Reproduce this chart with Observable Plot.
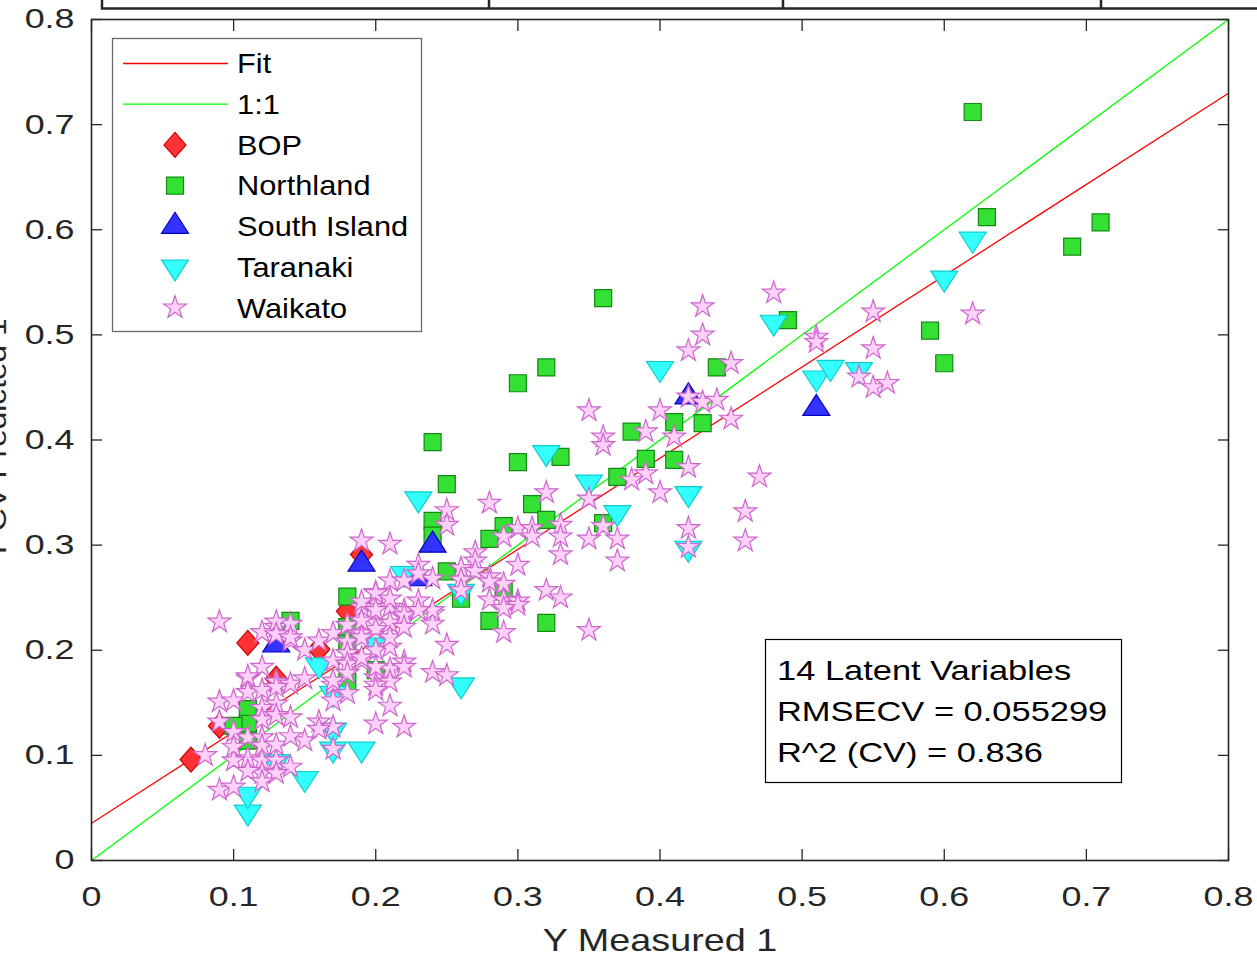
<!DOCTYPE html>
<html><head><meta charset="utf-8">
<script src="https://cdn.jsdelivr.net/npm/d3@7"></script>
<script src="https://cdn.jsdelivr.net/npm/@observablehq/plot@0.6"></script>
<style>
html,body{margin:0;padding:0;background:#fff;}
#chart{position:relative;width:1257px;height:957px;overflow:hidden;}
</style></head><body><div id="chart"></div>
<script>
// ---------------- data ----------------
const seriesNames = ["BOP", "Northland", "South Island", "Taranaki", "Waikato"];
const lineNames = ["Fit", "1:1"];
const xTicks = [0, 0.1, 0.2, 0.3, 0.4, 0.5, 0.6, 0.7, 0.8];
const yTicks = [0, 0.1, 0.2, 0.3, 0.4, 0.5, 0.6, 0.7, 0.8];
const xLabel = "Y Measured 1";
const yLabel = "Y CV Predicted 1";
const statsLines = ["14 Latent Variables", "RMSECV = 0.055299", "R^2 (CV) = 0.836"];
const fitIntercept = 0.0355;
const fitSlope = 0.868;

const bop = [[0.07,0.096],[0.09,0.128],[0.11,0.207],[0.13,0.173],[0.16,0.201],[0.18,0.237],[0.19,0.291]];

const northland = [[0.62,0.712],[0.63,0.612],[0.71,0.607],[0.69,0.584],[0.59,0.504],[0.60,0.473],[0.49,0.514],
[0.44,0.469],[0.43,0.416],[0.41,0.417],[0.38,0.408],[0.39,0.382],[0.41,0.381],[0.37,0.365],[0.36,0.535],
[0.32,0.469],[0.30,0.454],[0.24,0.398],[0.30,0.379],[0.33,0.384],[0.25,0.358],[0.31,0.339],[0.32,0.324],
[0.29,0.318],[0.28,0.306],[0.36,0.321],[0.24,0.323],[0.24,0.309],[0.25,0.275],[0.26,0.249],[0.29,0.256],
[0.28,0.228],[0.32,0.226],[0.18,0.251],[0.18,0.222],[0.18,0.206],[0.18,0.170],[0.20,0.181],[0.14,0.228],
[0.11,0.144],[0.11,0.130],[0.10,0.128],[0.11,0.114]];

const southIsland = [[0.13,0.205],[0.19,0.282],[0.23,0.268],[0.24,0.300],[0.42,0.441],[0.51,0.430]];

const taranaki = [[0.11,0.046],[0.11,0.063],[0.13,0.094],[0.15,0.078],[0.17,0.106],[0.19,0.106],[0.17,0.124],
[0.17,0.159],[0.16,0.186],[0.20,0.205],[0.22,0.273],[0.26,0.167],[0.23,0.344],[0.26,0.256],[0.32,0.388],
[0.35,0.360],[0.37,0.331],[0.42,0.349],[0.40,0.468],[0.42,0.297],[0.48,0.512],[0.51,0.459],[0.52,0.469],
[0.54,0.467],[0.60,0.554],[0.62,0.591]];

const waikato = [[0.48,0.540],[0.43,0.527],[0.43,0.500],[0.42,0.485],[0.45,0.473],[0.62,0.520],[0.55,0.522],
[0.51,0.498],[0.51,0.493],[0.55,0.487],[0.54,0.460],[0.55,0.450],[0.56,0.454],[0.42,0.441],[0.43,0.436],
[0.44,0.438],[0.40,0.428],[0.45,0.420],[0.35,0.428],[0.36,0.403],[0.36,0.395],[0.39,0.408],[0.41,0.403],
[0.42,0.374],[0.39,0.368],[0.38,0.362],[0.40,0.350],[0.47,0.365],[0.46,0.332],[0.46,0.304],[0.42,0.316],
[0.42,0.298],[0.35,0.219],[0.32,0.350],[0.28,0.340],[0.35,0.344],[0.33,0.319],[0.33,0.308],[0.33,0.291],
[0.35,0.306],[0.36,0.318],[0.37,0.306],[0.37,0.285],[0.30,0.316],[0.31,0.316],[0.29,0.308],[0.31,0.308],
[0.30,0.281],[0.32,0.257],[0.33,0.250],[0.29,0.263],[0.28,0.248],[0.29,0.248],[0.30,0.247],[0.30,0.243],
[0.29,0.240],[0.29,0.217],[0.27,0.293],[0.27,0.285],[0.26,0.278],[0.27,0.275],[0.26,0.267],[0.26,0.257],
[0.25,0.333],[0.25,0.319],[0.28,0.270],[0.28,0.265],[0.23,0.281],[0.24,0.268],[0.21,0.301],[0.19,0.304],
[0.25,0.205],[0.24,0.235],[0.24,0.225],[0.21,0.266],[0.20,0.255],[0.22,0.266],
[0.09,0.227],[0.08,0.100],[0.09,0.067],[0.10,0.070],[0.09,0.151],[0.10,0.152],[0.09,0.132],[0.11,0.173],
[0.12,0.184],[0.11,0.160],[0.12,0.162],[0.13,0.170],[0.14,0.168],[0.15,0.173],[0.13,0.149],[0.12,0.145],
[0.12,0.134],[0.13,0.138],[0.14,0.136],[0.10,0.122],[0.11,0.117],[0.12,0.117],[0.12,0.109],[0.11,0.097],
[0.10,0.095],[0.12,0.095],[0.13,0.095],[0.14,0.089],[0.12,0.083],[0.13,0.083],[0.15,0.114],[0.12,0.217],
[0.13,0.222],[0.14,0.225],[0.14,0.209],[0.15,0.200],[0.16,0.209],[0.17,0.216],[0.18,0.224],[0.18,0.208],
[0.18,0.197],[0.17,0.190],[0.18,0.187],[0.18,0.178],[0.17,0.167],[0.18,0.159],[0.17,0.152],[0.16,0.132],
[0.17,0.127],[0.17,0.106],[0.19,0.241],[0.20,0.254],[0.20,0.226],[0.19,0.216],[0.21,0.241],[0.21,0.226],
[0.22,0.238],[0.23,0.247],[0.23,0.273],[0.24,0.238],[0.20,0.200],[0.21,0.203],[0.19,0.190],[0.20,0.174],
[0.21,0.182],[0.21,0.170],[0.22,0.189],[0.20,0.167],[0.21,0.147],[0.20,0.130],[0.22,0.127],[0.24,0.179],
[0.25,0.176],[0.13,0.227],[0.13,0.215],[0.14,0.212],[0.21,0.249],[0.19,0.246],[0.20,0.238],[0.22,0.233],
[0.23,0.238],[0.20,0.220],[0.19,0.228],[0.19,0.212],[0.21,0.212],[0.22,0.222],[0.22,0.184],[0.20,0.184],
[0.19,0.193],[0.17,0.171],[0.20,0.162],[0.11,0.175],[0.13,0.165],[0.10,0.108],[0.13,0.110],[0.14,0.118],
[0.11,0.085],[0.12,0.075],[0.16,0.125]];

// ---------------- styles ----------------
const FONT = "'Liberation Sans', Arial, Helvetica, sans-serif";
const AXIS = "#262626";
function mk(pointsFn){ return {draw(ctx, size){ const r = Math.sqrt(size/Math.PI); const p = pointsFn(r); ctx.moveTo(p[0][0],p[0][1]); for(let i=1;i<p.length;i++) ctx.lineTo(p[i][0],p[i][1]); ctx.closePath(); }}; }
const symDiamond = mk(r => [[0,-r],[0.88*r,0],[0,r],[-0.88*r,0]]);
const symSquare = mk(r => [[-0.68*r,-0.68*r],[0.68*r,-0.68*r],[0.68*r,0.68*r],[-0.68*r,0.68*r]]);
const symTriUp = mk(r => [[0,-1.12*r],[1.08*r,0.56*r],[-1.08*r,0.56*r]]);
const symTriDown = mk(r => [[0,1.12*r],[1.08*r,-0.56*r],[-1.08*r,-0.56*r]]);
const symStar = mk(r => { const Ro = 0.96*r, ri = Ro*0.382, pts = []; for(let i=0;i<10;i++){ const a = -Math.PI/2 + i*Math.PI/5; const rr = i%2 ? ri : Ro; pts.push([rr*Math.cos(a), rr*Math.sin(a)]); } return pts; });

const series = [
  {name: seriesNames[0], data: bop, symbol: symDiamond, fill: "#ff3333", stroke: "#c80000"},
  {name: seriesNames[1], data: northland, symbol: symSquare, fill: "#33e033", stroke: "#138a13"},
  {name: seriesNames[2], data: southIsland, symbol: symTriUp, fill: "#3333ff", stroke: "#0000c0"},
  {name: seriesNames[3], data: taranaki, symbol: symTriDown, fill: "#33ffff", stroke: "#10cccc"},
  {name: seriesNames[4], data: waikato, symbol: symStar, fill: "#ffd0fa", stroke: "#cc66cc"}
];
const fitLines = [
  {name: lineNames[0], data: [[0, fitIntercept], [0.8, fitIntercept + 0.8*fitSlope]], stroke: "#ff0000"},
  {name: lineNames[1], data: [[0, 0], [0.8, 0.8]], stroke: "#00ff00"}
];
const MR = 12.5;
const fmt = d => d === 0 ? "0" : d3.format(".1f")(d);

const chart = Plot.plot({
  width: 1257, height: 957,
  marginLeft: 91, marginRight: 29, marginTop: 19, marginBottom: 97,
  style: {fontFamily: FONT, fontSize: "28px", color: AXIS, background: "#fff"},
  x: {domain: [0, 0.8]},
  y: {domain: [0, 0.8]},
  marks: [
    ...fitLines.map(l => Plot.line(l.data, {x: d => d[0], y: d => d[1], stroke: l.stroke, strokeWidth: 1.3})),
    ...series.map(s => Plot.dot(s.data, {x: d => d[0], y: d => d[1], symbol: s.symbol, r: MR, fill: s.fill, stroke: s.stroke, strokeWidth: 1.2})),
    Plot.axisX(xTicks, {anchor: "bottom", tickSize: 0, tickPadding: 26, tickFormat: fmt, label: null, fontSize: 28, fill: AXIS}),
    Plot.axisX(xTicks, {anchor: "bottom", tickSize: 11, dy: -11, tickFormat: () => "", label: null, stroke: AXIS, strokeWidth: 1.3}),
    Plot.axisX(xTicks, {anchor: "top", tickSize: 11, dy: 11, tickFormat: () => "", label: null, stroke: AXIS, strokeWidth: 1.3}),
    Plot.axisY(yTicks, {anchor: "left", tickSize: 0, tickPadding: 17, tickFormat: fmt, label: null, fontSize: 28, fill: AXIS}),
    Plot.axisY(yTicks, {anchor: "left", tickSize: 11, dx: 11, tickFormat: () => "", label: null, stroke: AXIS, strokeWidth: 1.3}),
    Plot.axisY(yTicks, {anchor: "right", tickSize: 11, dx: -11, tickFormat: () => "", label: null, stroke: AXIS, strokeWidth: 1.3}),
    Plot.frame({stroke: AXIS, strokeWidth: 1.6}),
    Plot.text([xLabel], {frameAnchor: "bottom", dy: 90, lineAnchor: "bottom", fontSize: 32, fill: AXIS})
  ]
});
document.getElementById("chart").appendChild(chart);

const svg = d3.select(chart);

function stretch(sel, k) { sel.each(function () { const L = this.getComputedTextLength(); if (L > 0) { this.setAttribute("textLength", L * k); this.setAttribute("lengthAdjust", "spacingAndGlyphs"); } }); }

// y axis title (rotated, partly outside the image on the left as in the reference)
const yCenter = (19 + 860) / 2;
const yl = svg.append("text").attr("font-family", FONT).attr("font-size", 28).attr("fill", AXIS)
  .attr("text-anchor", "start").text(yLabel);
{
  const L = yl.node().getComputedTextLength() * 1.13;
  yl.attr("textLength", L).attr("lengthAdjust", "spacingAndGlyphs")
    .attr("transform", `translate(6,${yCenter + L / 2}) rotate(-90)`);
}

// partial frame of the panel above (cut off at top of image)
const topFrame = svg.append("g").attr("fill", "none").attr("stroke", AXIS).attr("stroke-width", 2.5);
topFrame.append("path").attr("d", "M102,0V8.5H1257");
[489, 783, 1101].forEach(x => topFrame.append("path").attr("d", `M${x},0V8.5`));

// legend
const lg = svg.append("g").attr("font-family", FONT).attr("font-size", 28).attr("text-anchor", "start");
lg.append("rect").attr("x", 112.5).attr("y", 38.5).attr("width", 309).attr("height", 293)
  .attr("fill", "#fff").attr("stroke", "#6a6a6a").attr("stroke-width", 1.3);
const rowY = i => 63.5 + i * 40.7;
fitLines.forEach((l, i) => {
  lg.append("line").attr("x1", 123).attr("x2", 228).attr("y1", rowY(i)).attr("y2", rowY(i)).attr("stroke", l.stroke).attr("stroke-width", 1.3);
  lg.append("text").attr("x", 237).attr("y", rowY(i)).attr("dy", "0.35em").attr("fill", "#000").text(l.name);
});
series.forEach((s, j) => {
  const i = j + 2;
  lg.append("path").attr("transform", `translate(175,${rowY(i)})`).attr("d", d3.symbol(s.symbol, MR*MR*Math.PI)())
    .attr("fill", s.fill).attr("stroke", s.stroke).attr("stroke-width", 1.2);
  lg.append("text").attr("x", 237).attr("y", rowY(i)).attr("dy", "0.35em").attr("fill", "#000").text(s.name);
});

// statistics box
const sb = svg.append("g").attr("font-family", FONT).attr("font-size", 28).attr("text-anchor", "start");
sb.append("rect").attr("x", 765.5).attr("y", 639.5).attr("width", 356).attr("height", 143)
  .attr("fill", "#fff").attr("stroke", "#000").attr("stroke-width", 1.2);
statsLines.forEach((t, i) => sb.append("text").attr("x", 777).attr("y", 670 + i * 41).attr("dy", "0.35em").attr("fill", "#000").text(t));

// horizontal widening of glyphs to match the reference rendering
const byText = t => svg.selectAll("text").filter(function () { return this.textContent === t; });
stretch(svg.selectAll('g[aria-label="x-axis tick label"] text'), 1.28);
stretch(svg.selectAll('g[aria-label="y-axis tick label"] text'), 1.28);
stretch(byText(xLabel), 1.18);
stretch(lg.selectAll("text"), 1.1);
stretch(sb.selectAll("text"), 1.23);
</script></body></html>
